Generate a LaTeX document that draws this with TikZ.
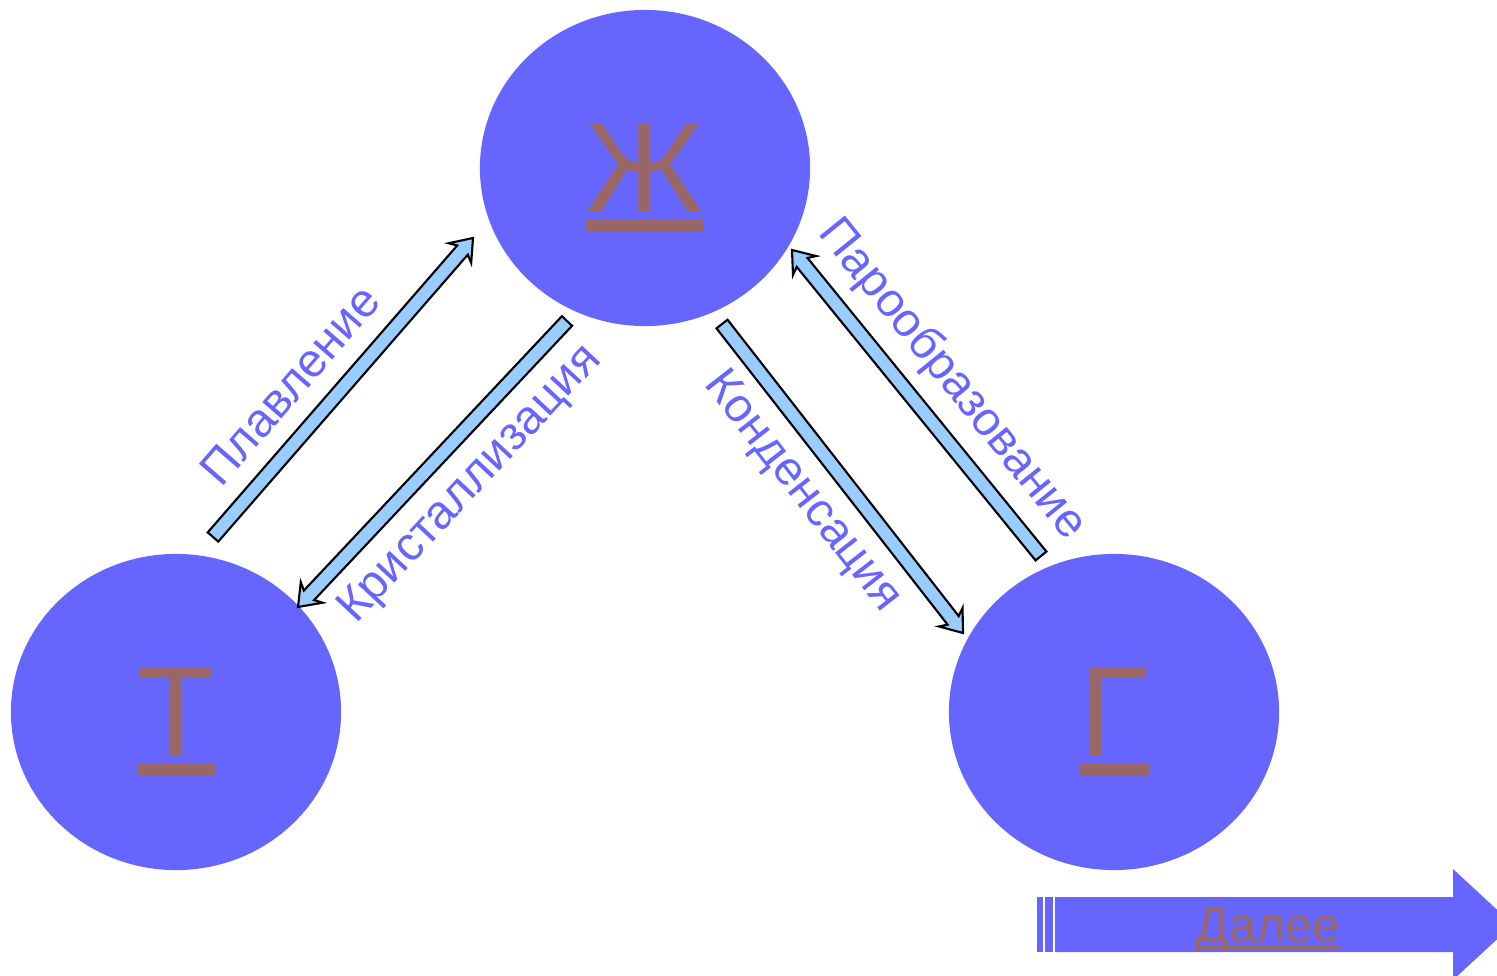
\documentclass[tikz,border=0pt]{standalone}
\usepackage{fontspec}
\setmainfont{Liberation Sans}
\usetikzlibrary{calc,shapes.geometric}
\definecolor{phaseblue}{HTML}{6666FF}
\definecolor{letterbrown}{HTML}{996666}
\definecolor{arrowblue}{HTML}{99CCFF}
\newlength\linkwd
\newcommand\linktext[1]{\settowidth\linkwd{#1}\rlap{#1}\smash{\rule[-0.155em]{\linkwd}{0.093em}}}
% thick outlined arrow from #1 (tail) to #2 (tip)
\newcommand\fatarrow[2]{%
  \coordinate (j) at ($(#2)!0.16cm!(#1)$);
  \coordinate (b) at ($(#2)!0.20cm!(#1)$);
  \draw[fill=arrowblue, line width=0.6pt, line join=miter]
    ($(#1)!0.07cm!90:(#2)$) -- ($(j)!0.07cm!90:(#2)$) -- ($(b)!0.15cm!90:(#2)$) -- (#2)
    -- ($(b)!0.15cm!-90:(#2)$) -- ($(j)!0.07cm!-90:(#2)$) -- ($(#1)!0.07cm!-90:(#2)$) -- cycle;}
\begin{document}
\begin{tikzpicture}[x=0.01cm,y=-0.01cm]
			\tikzstyle{Phase} = [ellipse, fill=phaseblue, minimum width=3.3cm, minimum height=3.16cm, inner sep=0pt, text=letterbrown, font=\fontsize{36.5}{40}\selectfont]
			\tikzstyle{Process} = [text=phaseblue, inner sep=0pt, font=\fontsize{13.5}{16}\selectfont]
			\useasboundingbox (0,0) rectangle (1497,976);
			\node (Zh) at (645,168) [Phase] {\linktext{Ж}};
			\node (T) at (176,712) [Phase] {\linktext{Т}};
			\node (G) at (1114,712) [Phase] {\linktext{Г}};
			\coordinate (pl1) at (213,537);
			\coordinate (pl2) at (473,238);
			\coordinate (kr1) at (567,321);
			\coordinate (kr2) at (298,607);
			\coordinate (ko1) at (722,324);
			\coordinate (ko2) at (963,633);
			\coordinate (pa1) at (1041,556);
			\coordinate (pa2) at (792,250);
			\fatarrow{pl1}{pl2}
			\fatarrow{kr1}{kr2}
			\fatarrow{ko1}{ko2}
			\fatarrow{pa1}{pa2}
			\node (pl) at (290,385) [Process, rotate=49] {Плавление};
			\node (kr) at (471,485) [Process, rotate=47] {Кристаллизация};
			\node (ko) at (802,492) [Process, rotate=-52] {Конденсация};
			\node (pa) at (952,380) [Process, rotate=-51] {Парообразование};
			% next button
			\begin{scope}
				\clip (0,0) rectangle (1497,976);
				\fill[phaseblue] (1055,897) -- (1453,897) -- (1453,869) -- (1513,924.5) -- (1453,980) -- (1453,952) -- (1055,952) -- cycle;
				\fill[phaseblue] (1037,897) rectangle (1043,952);
				\fill[phaseblue] (1044.7,897) rectangle (1053,952);
			\end{scope}
			\node (next) at (1268,942) [anchor=base, inner sep=0pt, text=letterbrown, font=\fontsize{14}{16}\selectfont] {\linktext{Далее}};
		\end{tikzpicture}
\end{document}
